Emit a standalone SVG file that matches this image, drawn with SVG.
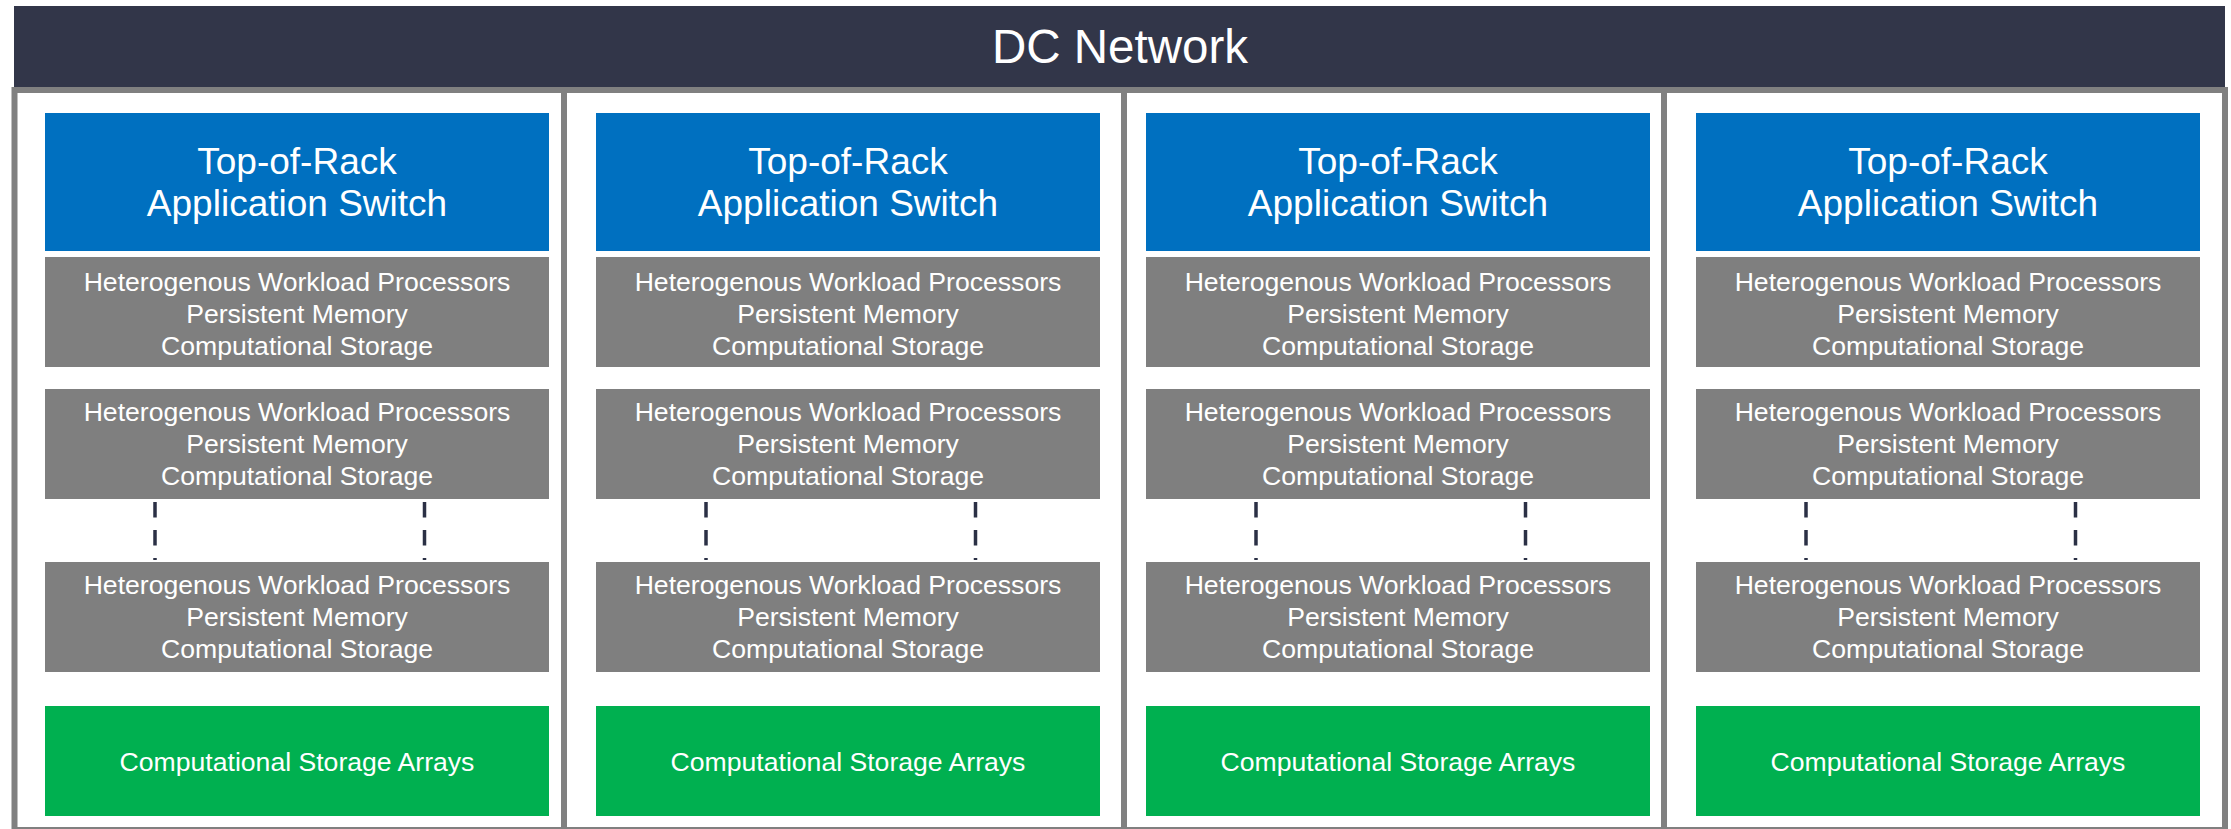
<svg xmlns="http://www.w3.org/2000/svg" width="2231" height="829" viewBox="0 0 2231 829">
<style>
text{font-family:"Liberation Sans",Arial,sans-serif;fill:#fff;text-anchor:middle}
.banner{fill:#323649}
.tor{fill:#0070C0}
.srv{fill:#7F7F7F}
.csa{fill:#00B050}
.frame{fill:none;stroke:#808080;stroke-width:6}
.t36{font-size:37px}
.t26{font-size:26.6px}
.dash{stroke:#2B3045;stroke-width:3.5;stroke-dasharray:15.5 12.5;fill:none}
</style>
<defs>
<g id="rack">
<g><rect class="tor" x="0" y="113" width="504" height="138"/><text class="t36" x="252" y="173.5">Top-of-Rack</text><text class="t36" x="252" y="216">Application Switch</text></g>
<g><rect class="srv" x="0" y="257" width="504" height="110"/><text class="t26" x="252" y="290.5">Heterogenous Workload Processors</text><text class="t26" x="252" y="322.5">Persistent Memory</text><text class="t26" x="252" y="354.5">Computational Storage</text></g>
<g><rect class="srv" x="0" y="389" width="504" height="110"/><text class="t26" x="252" y="421">Heterogenous Workload Processors</text><text class="t26" x="252" y="453">Persistent Memory</text><text class="t26" x="252" y="485">Computational Storage</text></g>
<g><rect class="srv" x="0" y="562" width="504" height="110"/><text class="t26" x="252" y="594">Heterogenous Workload Processors</text><text class="t26" x="252" y="626">Persistent Memory</text><text class="t26" x="252" y="658">Computational Storage</text></g>
<g><rect class="csa" x="0" y="706" width="504" height="110"/><text class="t26" x="252" y="770.5">Computational Storage Arrays</text></g>
</g>
</defs>
<g id="dc-network">
<rect class="banner" x="14" y="6" width="2211" height="81"/>
<text x="1120" y="63" style="font-size:47.5px">DC Network</text>
</g>
<g id="frame">
<rect class="frame" x="14.5" y="90" width="2210.5" height="740"/>
<line class="frame" x1="564" y1="90" x2="564" y2="830"/>
<line class="frame" x1="1124" y1="90" x2="1124" y2="830"/>
<line class="frame" x1="1664" y1="90" x2="1664" y2="830"/>
</g>
<g id="rack-1"><use href="#rack" x="45" y="0"/></g>
<g id="rack-2"><use href="#rack" x="596" y="0"/></g>
<g id="rack-3"><use href="#rack" x="1146" y="0"/></g>
<g id="rack-4"><use href="#rack" x="1696" y="0"/></g>
<g id="connectors">
<line class="dash" x1="155" y1="502" x2="155" y2="560"/>
<line class="dash" x1="424.5" y1="502" x2="424.5" y2="560"/>
<line class="dash" x1="706" y1="502" x2="706" y2="560"/>
<line class="dash" x1="975.5" y1="502" x2="975.5" y2="560"/>
<line class="dash" x1="1256" y1="502" x2="1256" y2="560"/>
<line class="dash" x1="1525.5" y1="502" x2="1525.5" y2="560"/>
<line class="dash" x1="1806" y1="502" x2="1806" y2="560"/>
<line class="dash" x1="2075.5" y1="502" x2="2075.5" y2="560"/>
</g>
</svg>
